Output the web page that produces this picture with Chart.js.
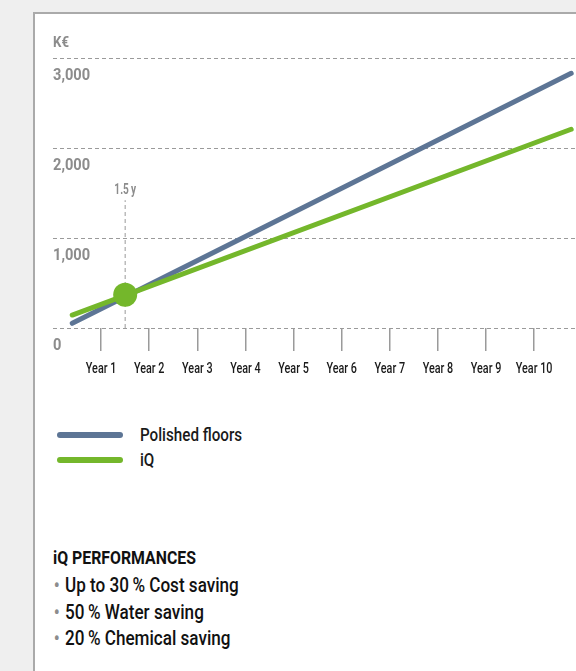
<!DOCTYPE html>
<html>
<head>
<meta charset="utf-8">
<script src="https://cdn.jsdelivr.net/npm/chart.js@4"></script>
<style>
  html, body { margin: 0; padding: 0; }
  body {
    width: 576px; height: 671px; overflow: hidden; position: relative;
    background: #efefef;
    font-family: Roboto, "Liberation Sans", sans-serif;
  }
  .panel {
    position: absolute; left: 33px; top: 12px; width: 600px; height: 700px;
    background: #fff; border: 2px solid #aaaaaa; box-sizing: border-box;
  }
  #wrap { position: absolute; left: 0; top: 0; width: 576px; height: 400px; }
  .nar { display: inline-block; transform-origin: left center; white-space: nowrap; }
  .unit {
    position: absolute; left: 53px; top: 32px; line-height: 20px;
    color: #8c8c8c; font-weight: bold; font-size: 15px;
  }
  .unit .nar { transform: scaleX(0.88); }
  .legend { position: absolute; left: 57px; top: 423px; }
  .legend .item { position: relative; height: 25px; }
  .legend .sw {
    position: absolute; left: 0; top: 9px; width: 66px; height: 6px; border-radius: 3px;
  }
  .legend .lb {
    position: absolute; left: 83px; top: 0; font-size: 19px; font-weight: 500; color: #1a1a1a; line-height: 24px;
  }
  .legend .lb .nar { transform: scaleX(0.8); }
  .perf { position: absolute; left: 53px; top: 545px; color: #111; }
  .perf h3 { margin: 0 0 1px 0; font-size: 18px; font-weight: bold; line-height: 26px; }
  .perf h3 .nar { transform: scaleX(0.88); }
  .perf ul { margin: 0; padding: 0; list-style: none; }
  .perf li { font-size: 20px; font-weight: 500; line-height: 26.5px; }
  .perf li .nar { transform: scaleX(0.855); }
  .perf li .bu { color: #8c8c8c; margin-left: 1px; margin-right: 6px; }
</style>
</head>
<body>
<div class="panel"></div>
<div id="wrap"><canvas id="grafico"></canvas></div>
<div class="unit"><span class="nar">K€</span></div>
<div class="legend" id="leyenda"></div>
<div class="perf">
  <h3><span class="nar">iQ PERFORMANCES</span></h3>
  <ul id="lista"></ul>
</div>
<script>
// datos
const years = ['Year 1', 'Year 2', 'Year 3', 'Year 4', 'Year 5', 'Year 6', 'Year 7', 'Year 8', 'Year 9', 'Year 10'];
const yTickLabels = ['0', '1,000', '2,000', '3,000'];
const lineX = [0.4, 10.77];
const polished = [52, 2830];
const iq = [144, 2208];
const breakEvenYear = 1.5;
const breakEvenValue = 370;
const markerTop = 1420;
const seriesNames = ['Polished floors', 'iQ'];
const seriesColors = ['#5d7595', '#74b72b'];
const performances = ['Up to 30\u2009% Cost saving', '50\u2009% Water saving', '20\u2009% Chemical saving'];

const FONT = 'Roboto, "Liberation Sans", sans-serif';

window.addEventListener('load', iniciar, false);

// texto estrecho (no hay fuentes condensadas)
function textoEstrecho(ctx, txt, x, y, sx, align) {
  ctx.save();
  ctx.translate(x, y);
  ctx.scale(sx, 1);
  ctx.textAlign = align;
  ctx.textBaseline = 'alphabetic';
  ctx.fillText(txt, 0, 0);
  ctx.restore();
}

function iniciar() {
  // leyenda html
  const leyenda = document.getElementById('leyenda');
  seriesNames.forEach((n, i) => {
    const it = document.createElement('div');
    it.className = 'item';
    it.innerHTML = '<div class="sw" style="background:' + seriesColors[i] + '"></div><div class="lb"><span class="nar">' + n + '</span></div>';
    leyenda.appendChild(it);
  });
  const lista = document.getElementById('lista');
  performances.forEach(p => {
    const li = document.createElement('li');
    li.innerHTML = '<span class="nar"><span class="bu">\u2022</span>' + p + '</span>';
    lista.appendChild(li);
  });

  const etiquetas = {
    id: 'etiquetas',
    afterDatasetsDraw(chart) {
      const { ctx, scales, chartArea } = chart;
      ctx.save();
      // eje y
      ctx.fillStyle = '#8c8c8c';
      ctx.font = 'bold 17px ' + FONT;
      scales.y.ticks.forEach(t => {
        textoEstrecho(ctx, t.label, chartArea.left, scales.y.getPixelForValue(t.value) + 22, 0.86, 'left');
      });
      // eje x
      ctx.fillStyle = '#1a1a1a';
      ctx.font = '500 15px ' + FONT;
      scales.x.ticks.forEach(t => {
        textoEstrecho(ctx, t.label, scales.x.getPixelForValue(t.value), chartArea.bottom + 45, 0.72, 'center');
      });
      // 1.5 y
      ctx.fillStyle = '#8c8c8c';
      ctx.font = 'bold 14px ' + FONT;
      textoEstrecho(ctx, breakEvenYear + '\u2009y', scales.x.getPixelForValue(breakEvenYear),
        scales.y.getPixelForValue(markerTop) - 6, 0.72, 'center');
      ctx.restore();
    }
  };

  const canvas = document.getElementById('grafico');
  new Chart(canvas, {
    type: 'scatter',
    data: {
      datasets: [
        {
          label: 'dot',
          data: [{ x: breakEvenYear, y: breakEvenValue }],
          pointRadius: 12,
          pointBackgroundColor: seriesColors[1],
          pointBorderWidth: 0,
          showLine: false,
          order: 0
        },
        {
          label: seriesNames[1],
          data: lineX.map((x, i) => ({ x: x, y: iq[i] })),
          showLine: true,
          borderColor: seriesColors[1],
          borderWidth: 5,
          borderCapStyle: 'round',
          pointRadius: 0,
          order: 1
        },
        {
          label: seriesNames[0],
          data: lineX.map((x, i) => ({ x: x, y: polished[i] })),
          showLine: true,
          borderColor: seriesColors[0],
          borderWidth: 5,
          borderCapStyle: 'round',
          pointRadius: 0,
          order: 2
        },
        {
          label: 'marker',
          data: [{ x: breakEvenYear, y: 0 }, { x: breakEvenYear, y: markerTop }],
          showLine: true,
          borderColor: '#9a9a9a',
          borderWidth: 1,
          borderDash: [4, 3],
          pointRadius: 0,
          order: 3
        }
      ]
    },
    options: {
      responsive: true,
      maintainAspectRatio: false,
      animation: false,
      layout: { autoPadding: false, padding: { left: 53, right: 0, top: 58, bottom: 0 } },
      plugins: {
        legend: { display: false },
        tooltip: { enabled: false }
      },
      scales: {
        x: {
          type: 'linear',
          min: 0,
          max: 10.87,
          afterBuildTicks: axis => {
            axis.ticks = years.map((_, i) => ({ value: i + 1 }));
          },
          afterFit: axis => {
            axis.height = 72;
            axis.paddingLeft = 0; axis.paddingRight = 0;
          },
          grid: {
            drawOnChartArea: false,
            drawTicks: true,
            tickLength: 23,
            color: '#9a9a9a',
            lineWidth: 1.5
          },
          border: { display: false },
          ticks: {
            display: false,
            autoSkip: false,
            callback: v => years[v - 1] || ''
          }
        },
        y: {
          min: 0,
          max: 3000,
          afterFit: axis => {
            axis.width = 0;
            axis.paddingTop = 0; axis.paddingBottom = 0;
          },
          grid: {
            drawTicks: false,
            color: '#9a9a9a',
            lineWidth: 1
          },
          border: { display: false, dash: [4, 3] },
          ticks: {
            display: false,
            stepSize: 1000,
            callback: v => yTickLabels[v / 1000]
          }
        }
      }
    },
    plugins: [etiquetas]
  });
}
</script>
</body>
</html>
